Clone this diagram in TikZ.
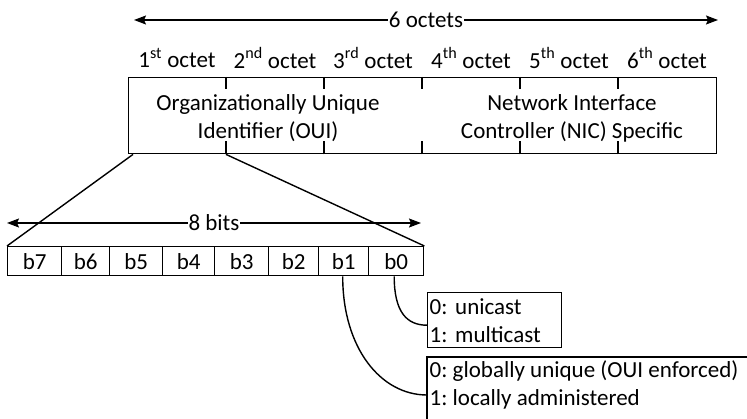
\documentclass[tikz,border=0pt]{standalone}
\usepackage{fontspec}
\setmainfont{Carlito}
\frenchspacing
\usetikzlibrary{arrows.meta,calc}
\begin{document}
\begin{tikzpicture}[x=1pt,y=-1pt,line width=1.4pt,
  every node/.style={font=\fontsize{23}{28}\selectfont, inner sep=0pt},
  tip/.tip={Stealth[length=12pt,width=9pt,inset=2pt]},
  span/.style={tip-tip},
  spanlabel/.style={fill=white, inner xsep=1pt},
  bitbox/.style={draw, anchor=north west, minimum height=29pt},
  infobox/.style={align=left, inner xsep=2pt}]
\clip (0,0) rectangle (747,419);

% MAC address frame: six octets of 98pt each
\node[draw, anchor=north west, minimum width=588pt, minimum height=76pt] (mac) at (128,77) {};
\foreach \i in {1,...,5} {
  \draw ($(mac.north west)+(98*\i,0)$) -- +(0,12);
  \draw ($(mac.south west)+(98*\i,0)$) -- +(0,-13);
}
\coordinate (octsplit) at ($(mac.south west)+(98,0)$);

% octet labels
\foreach \n/\s [count=\i] in {1/st,2/nd,3/rd,4/th,5/th,6/th}
  \node (oct\i) at (79+98*\i,58) {\n\textsuperscript{\s} octet};

% overall width
\coordinate (macl) at (134,20);
\coordinate (macr) at (718,20);
\draw[span] (macl) -- (macr) node[midway, spanlabel] (six) {6 octets};

\node[align=center] (oui) at (268,118) {Organizationally Unique\\Identifier (OUI)};
\node[align=center] (nic) at (572,118) {Network Interface\\Controller (NIC) Specific};

% the first octet, bit by bit
\foreach \x/\w/\b in {7/54/7, 61/48/6, 109/53/5, 162/52/4, 214/54/3, 268/50/2, 318/50/1, 368/55/0}
  \node[bitbox, minimum width=\w pt] (b\b) at (\x,246) {b\b};

\coordinate (bitl) at (7,223);
\coordinate (bitr) at (421,223);
\draw[span] (bitl) -- (bitr) node[midway, spanlabel] (eight) {8 bits};

% zoom lines from the first octet
\draw ($(mac.south west)+(5,0)$) -- (b7.north west);
\draw (octsplit) -- (b0.north east);

% meaning of b0 and b1
\node[draw, infobox, anchor=north west, minimum width=134pt, minimum height=55pt, text width=130pt] (cast) at (427,292) {0: unicast\\1: multicast};
\node[infobox, anchor=west] (admin) at (427,385) {0: globally unique (OUI enforced)\\1: locally administered};
\coordinate (admintop) at (427,357);
\draw (admin.west |- 0,430) -- (admintop) -- (760,357);

\draw ($(b0.south)+(-2,0)$) .. controls +(0,36) and +(-20,0) .. ($(cast.west)+(0,5)$);
\draw ($(b1.south)+(-1,0)$) .. controls +(0,72) and +(-46,0) .. ($(admin.west)+(0,10)$);
\end{tikzpicture}
\end{document}
